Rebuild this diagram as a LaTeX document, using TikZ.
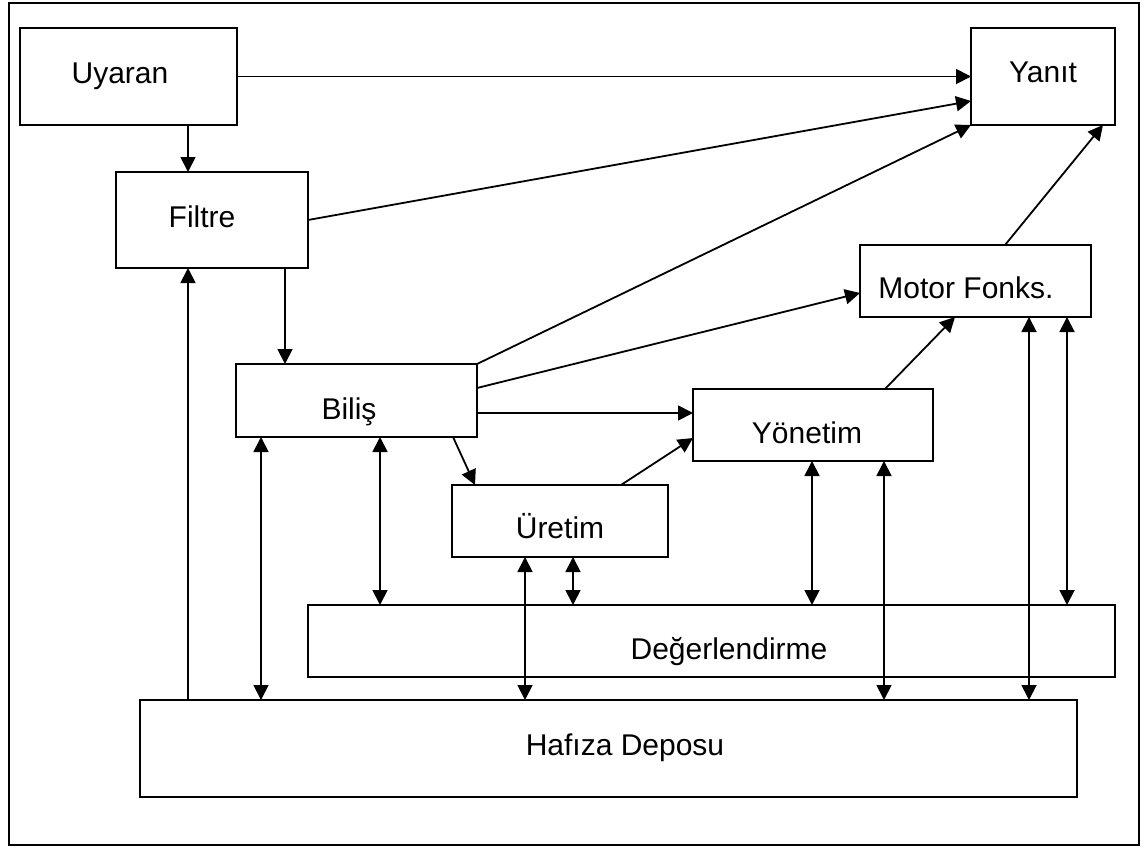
\documentclass[tikz,border=0pt]{standalone}
\usepackage{fontspec}
\setmainfont{Liberation Sans}
\usetikzlibrary{arrows.meta}
\begin{document}
\begin{tikzpicture}[x=1pt,y=-1pt,
  box/.style={draw,line width=2.2pt,rectangle,inner sep=0pt,outer sep=0pt},
  lbl/.style={anchor=base,inner sep=0pt,font=\fontsize{30}{35}\selectfont},
  arr/.style={line width=1.8pt,-{Triangle[length=15pt,width=15pt]}},
  darr/.style={line width=1.8pt,{Triangle[length=15pt,width=15pt]}-{Triangle[length=15pt,width=15pt]}}]
\useasboundingbox (0,0) rectangle (1148,846);
\draw[line width=1.8pt] (9,3) rectangle (1139,845);
% boxes
\node[box,minimum width=217pt,minimum height=97pt] (uyaran) at (128.5,76.5) {};
\node[box,minimum width=144pt,minimum height=97pt] (yanit) at (1043,76.5) {};
\node[box,minimum width=192pt,minimum height=96pt] (filtre) at (212,220) {};
\node[box,minimum width=241pt,minimum height=73pt] (bilis) at (356.5,400.5) {};
\node[box,minimum width=216pt,minimum height=72pt] (uretim) at (560,521) {};
\node[box,minimum width=240pt,minimum height=72pt] (yonetim) at (813,425) {};
\node[box,minimum width=231pt,minimum height=72pt] (motor) at (975.5,281) {};
\node[box,minimum width=807pt,minimum height=72pt] (deger) at (711.5,641) {};
\node[box,minimum width=937pt,minimum height=97pt] (hafiza) at (608.5,748.5) {};
% labels
\node[lbl] (tuyaran) at (120,83) {Uyaran};
\node[lbl] (tyanit) at (1043,82) {Yanıt};
\node[lbl] (tfiltre) at (202,227) {Filtre};
\node[lbl] (tbilis) at (349,419) {Biliş};
\node[lbl] (turetim) at (560,538) {Üretim};
\node[lbl] (tyonetim) at (807,443) {Yönetim};
\node[lbl] (tmotor) at (966,298) {Motor Fonks.};
\node[lbl] (tdeger) at (729,659) {Değerlendirme};
\node[lbl] (thafiza) at (625,755) {Hafıza Deposu};
% connectors
\draw[arr] (uyaran.south -| 188,0) -- (filtre.north -| 188,0);
\draw[arr] (uyaran.east) -- (yanit.west);
\draw[arr] (filtre.east) -- (yanit.west |- 0,101);
\draw[arr] (filtre.south -| 285,0) -- (bilis.north -| 285,0);
\draw[arr] (hafiza.north -| 188,0) -- (filtre.south -| 188,0);
\draw[arr] (bilis.north east) -- (yanit.south west);
\draw[arr] (bilis.east |- 0,388) -- (motor.west |- 0,293);
\draw[arr] (bilis.east |- 0,413) -- (yonetim.west |- 0,413);
\draw[arr] (bilis.south -| 453,0) -- (uretim.north -| 475,0);
\draw[darr] (bilis.south -| 380,0) -- (deger.north -| 380,0);
\draw[darr] (bilis.south -| 261,0) -- (hafiza.north -| 261,0);
\draw[arr] (uretim.north -| 621,0) -- (yonetim.west |- 0,438);
\draw[darr] (uretim.south -| 525,0) -- (hafiza.north -| 525,0);
\draw[darr] (uretim.south -| 573,0) -- (deger.north -| 573,0);
\draw[arr] (yonetim.north -| 885,0) -- (motor.south -| 955,0);
\draw[darr] (yonetim.south -| 812,0) -- (deger.north -| 812,0);
\draw[darr] (yonetim.south -| 884,0) -- (hafiza.north -| 884,0);
\draw[arr] (motor.north -| 1005,0) -- (yanit.south -| 1103,0);
\draw[darr] (motor.south -| 1029,0) -- (hafiza.north -| 1029,0);
\draw[darr] (motor.south -| 1067,0) -- (deger.north -| 1067,0);
\end{tikzpicture}
\end{document}
